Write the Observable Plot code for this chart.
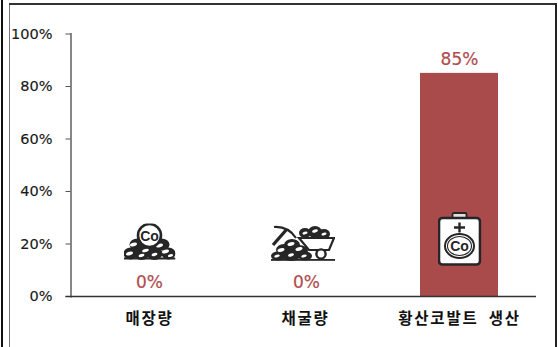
<!DOCTYPE html>
<html lang="ko">
<head>
<meta charset="utf-8">
<script src="https://cdn.jsdelivr.net/npm/d3@7"></script>
<script src="https://cdn.jsdelivr.net/npm/@observablehq/plot@0.6"></script>
<style>
  html, body { margin: 0; padding: 0; background: #fff; }
  #wrap { position: relative; width: 558px; height: 347px; overflow: hidden; }
  #wrap svg { position: absolute; left: 0; top: 0; }
  #wrap svg image { position: static; }
  .edge { position: absolute; }
  g[aria-label="x-axis tick label"] { letter-spacing: 1.8px; word-spacing: 4px; }
  g[aria-label="y-axis tick label"] text { stroke: #1a1a1a; stroke-width: 0.15px; }
  g[aria-label="text"] text { stroke: #b04c4d; stroke-width: 0.2px; }
</style>
</head>
<body>
<div id="wrap">
  <div class="edge" style="left:1px;top:0;width:1.5px;height:347px;background:#111"></div>
  <div class="edge" style="left:8.5px;top:3px;width:1.5px;height:344px;background:#777"></div>
  <div class="edge" style="left:8.5px;top:3px;width:547px;height:1.5px;background:#333"></div>
  <div class="edge" style="left:555px;top:3px;width:1.5px;height:344px;background:#222"></div>
</div>
<script>
const categories = ["매장량", "채굴량", "황산코발트 생산"];
const shares = [0, 0, 85];
const yTicks = [0, 20, 40, 60, 80, 100];

const rows = categories.map((name, i) => ({name, share: shares[i]}));

const ink = "#262626";
const barRed = "#a94a4b";
const valueRed = "#b04c4d";

const blob = (x, y, rx, ry) => `<ellipse cx="${x}" cy="${y}" rx="${rx}" ry="${ry}" fill="${ink}"/>`;
const glint = (x, y, rx = 3.6, ry = 1.8, a = -15) =>
  `<ellipse cx="${x}" cy="${y}" rx="${rx}" ry="${ry}" fill="#fff" transform="rotate(${a} ${x} ${y})"/>`;
const coText = (x, y, size) =>
  `<text x="${x}" y="${y + size * 0.36}" text-anchor="middle" font-family="Liberation Sans" font-weight="700" font-size="${size}" fill="${ink}">Co</text>`;

// Ore heap topped by a cobalt coin
const heapSvg = `<svg xmlns="http://www.w3.org/2000/svg" width="52" height="37" viewBox="0 0 52 37">
${blob(14, 21, 8, 6)}${blob(26, 22, 8, 7)}${blob(38, 21, 8, 6)}
${blob(7, 30, 7, 6)}${blob(18, 30, 8, 6.5)}${blob(31, 30, 8, 6.5)}${blob(45, 30, 7, 6)}
${glint(10, 21)}${glint(36, 22)}${glint(22, 27, 3.4, 1.6)}${glint(42, 28)}${glint(6, 30)}${glint(31, 31, 3, 1.5)}${glint(18, 32, 3, 1.5)}${glint(47, 32, 2.6, 1.4)}
<rect x="0" y="34" width="52" height="2" fill="${ink}"/>
<circle cx="26" cy="12" r="11.5" fill="#fff" stroke="${ink}" stroke-width="2.6"/>
${coText(26, 12, 14)}
</svg>`;

// Pickaxe, ore pile and loaded wheelbarrow
const cartSvg = `<svg xmlns="http://www.w3.org/2000/svg" width="64" height="37" viewBox="0 0 64 37">
<path d="M2 20 L16 4" stroke="${ink}" stroke-width="3.4" fill="none"/>
<path d="M3 2 Q17 1 25 13" stroke="${ink}" stroke-width="2.2" fill="none"/>
${blob(34, 8, 6, 5)}${blob(44, 7, 7, 6)}${blob(53, 9, 6, 5)}
${glint(34, 8, 2.6, 1.4)}${glint(44, 6, 3, 1.5)}${glint(53, 9, 2.6, 1.4)}
<path d="M28 13 H63 L58 25 H38 Z" fill="#fff" stroke="${ink}" stroke-width="2.2"/>
<circle cx="50" cy="29" r="4.6" fill="#fff" stroke="${ink}" stroke-width="2.4"/>
${blob(21, 20, 8, 6)}${blob(13, 25, 8, 6)}${blob(28, 26, 9, 6)}${blob(7, 31, 7, 4.5)}${blob(20, 31, 9, 5)}${blob(34, 31, 7, 4.5)}
${glint(20, 19)}${glint(10, 25)}${glint(28, 24)}${glint(6, 31, 2.8, 1.4)}${glint(20, 30, 3, 1.5)}${glint(33, 31, 2.8, 1.4)}
<rect x="0" y="34" width="64" height="1.8" fill="${ink}"/>
</svg>`;

// Battery cell marked with the cobalt symbol
const batterySvg = `<svg xmlns="http://www.w3.org/2000/svg" width="44" height="54" viewBox="0 0 44 54">
<rect x="15" y="1" width="14" height="6" rx="1.5" fill="#e7dede" stroke="${ink}" stroke-width="1.8"/>
<rect x="1.5" y="6" width="41" height="46.5" rx="3.5" fill="#fff" stroke="${ink}" stroke-width="2.6"/>
<path d="M22 10.5 V20.5 M16.5 15.5 H27.5" stroke="${ink}" stroke-width="2.4" fill="none"/>
<ellipse cx="22" cy="34" rx="14.5" ry="12" fill="none" stroke="${ink}" stroke-width="2"/>
<ellipse cx="22" cy="34" rx="12" ry="9.5" fill="none" stroke="${ink}" stroke-width="1.1"/>
${coText(22, 34, 14)}
</svg>`;

const asUrl = (svg) => "data:image/svg+xml;charset=utf-8," + encodeURIComponent(svg);

const chart = Plot.plot({
  width: 558,
  height: 347,
  marginLeft: 70.5,
  marginRight: 22,
  marginTop: 33.5,
  marginBottom: 51,
  style: {background: "transparent", overflow: "visible"},
  x: {domain: categories, paddingInner: 0.5, paddingOuter: 0.25, label: null},
  y: {domain: [0, 100], label: null},
  marks: [
    Plot.barY(rows, {x: "name", y: "share", fill: barRed}),
    Plot.frame({anchor: "left", stroke: "#7a7a7a", strokeWidth: 1.8}),
    Plot.axisY({
      ticks: yTicks,
      tickSize: 5,
      tickPadding: 13.5,
      tickFormat: d => d + "%",
      stroke: "#555",
      fill: "#1a1a1a",
      fontSize: 14.5,
      fontFamily: "DejaVu Sans",
      label: null
    }),
    Plot.ruleY([0], {stroke: "#333", strokeWidth: 1.4, insetLeft: -5}),
    ...[[categories[0], 0], [categories[1], 1], [categories[2], 0]].map(([name, dx]) =>
      Plot.axisX({
        ticks: [name],
        dx,
        tickSize: 0,
        tickPadding: 16,
        fill: "#111",
        fontSize: 15.5,
        fontWeight: 700,
        fontFamily: "Noto Sans CJK KR",
        label: null
      })
    ),
    ...rows.map((row, i) =>
      Plot.text([row], {
        x: "name",
        y: "share",
        text: d => d.share + "%",
        dy: -13.5,
        dx: i === 1 ? 2 : 0,
        fill: valueRed,
        fontSize: 17,
        fontFamily: "DejaVu Sans"
      })
    ),
    Plot.image([rows[0]], {x: "name", y: 0, dy: -54.5, width: 52, height: 37, src: () => asUrl(heapSvg)}),
    Plot.image([rows[1]], {x: "name", y: 0, dy: -53, dx: -1.5, width: 64, height: 37, src: () => asUrl(cartSvg)}),
    Plot.image([rows[2]], {x: "name", y: 0, dy: -57.5, width: 44, height: 54, src: () => asUrl(batterySvg)})
  ]
});

document.getElementById("wrap").appendChild(chart);
</script>
</body>
</html>
